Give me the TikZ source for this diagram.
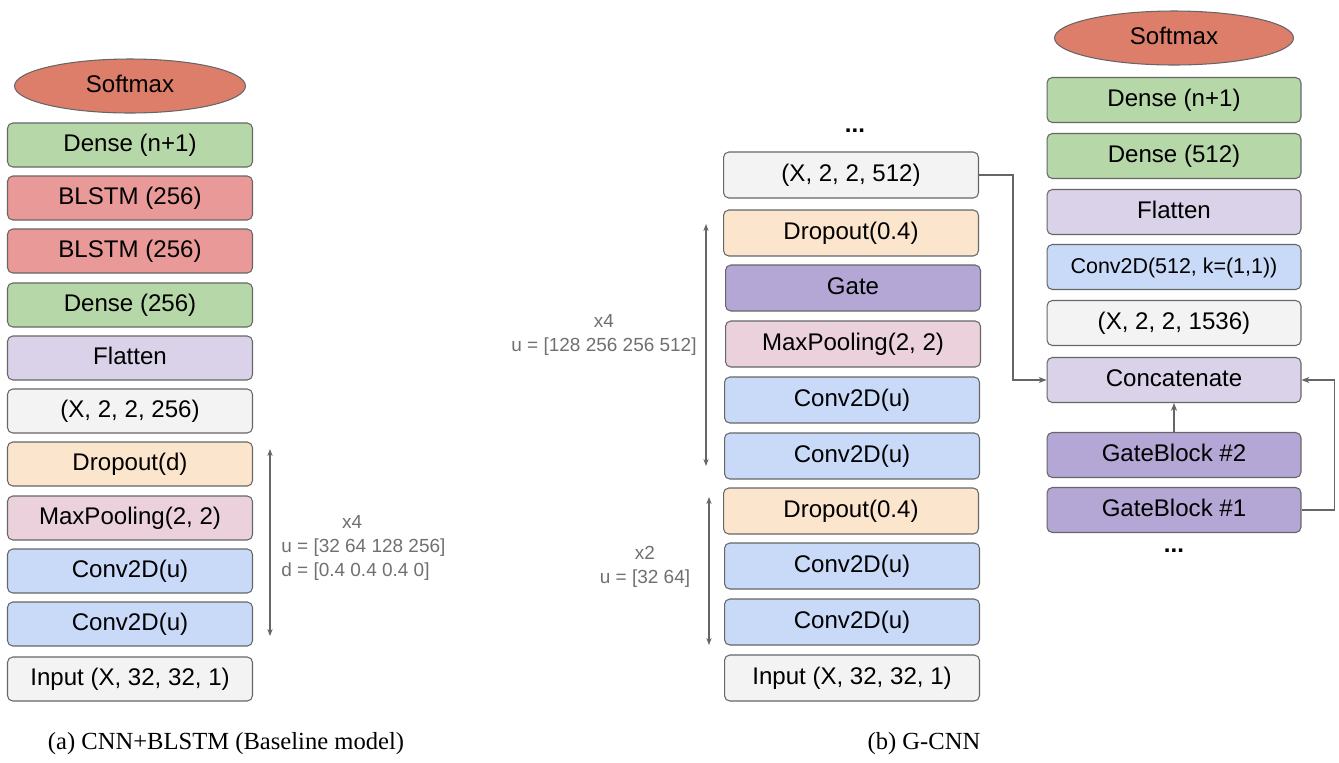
\documentclass[tikz,border=0pt]{standalone}
\usepackage{fontspec}
\setmainfont{Liberation Serif}
\setsansfont{Liberation Sans}
\usetikzlibrary{shapes.geometric,arrows.meta}

\definecolor{softred}{HTML}{DD7E6B}
\definecolor{densegreen}{HTML}{B6D7A8}
\definecolor{lstmred}{HTML}{EA9999}
\definecolor{flatpurple}{HTML}{D9D2E9}
\definecolor{shapegray}{HTML}{F3F3F3}
\definecolor{droporange}{HTML}{FCE5CD}
\definecolor{poolpink}{HTML}{EAD1DC}
\definecolor{convblue}{HTML}{C9DAF8}
\definecolor{gatepurple}{HTML}{B4A7D6}
\definecolor{linegray}{HTML}{666666}
\definecolor{notegray}{HTML}{707070}

\begin{document}
\begin{tikzpicture}[x=0.02cm,y=-0.02cm,
		layer/.style={draw=linegray,line width=0.6pt,rounded corners=3pt,inner sep=0pt,text height=0.78em,text depth=0em,font=\sffamily\fontsize{13.7}{16}\selectfont},
		colA/.style={layer,minimum width=4.9cm,minimum height=0.88cm},
		colB/.style={layer,minimum width=5.1cm,minimum height=0.92cm},
		colC/.style={layer,minimum width=5.08cm,minimum height=0.9cm},
		soft/.style={ellipse,draw=linegray,line width=0.6pt,fill=softred,inner sep=0pt,text height=0.78em,text depth=0em,font=\sffamily\fontsize{13.7}{16}\selectfont},
		note/.style={text=notegray,font=\sffamily\fontsize{10.8}{13.6}\selectfont},
		dots/.style={font=\sffamily\bfseries\fontsize{13.7}{16}\selectfont},
		span/.style={draw=linegray,line width=0.6pt,{Stealth[length=4pt,width=3pt]}-{Stealth[length=4pt,width=3pt]}},
		conn/.style={draw=linegray,line width=0.6pt,-{Stealth[length=4.5pt,width=3.5pt]}},
		captext/.style={font=\fontsize{14}{16}\selectfont}]
	\useasboundingbox (0,0) rectangle (1339,762);
	
	% (a) baseline
	\node[soft,minimum width=4.62cm,minimum height=1.08cm] (smA) at (130,86) {Softmax};
	\node[colA,fill=densegreen] (dnA) at (130,145) {Dense (n+1)};
	\node[colA,fill=lstmred] (lstmB) at (130,198) {BLSTM (256)};
	\node[colA,fill=lstmred] (lstmA) at (130,251) {BLSTM (256)};
	\node[colA,fill=densegreen] (dA) at (130,305) {Dense (256)};
	\node[colA,fill=flatpurple] (flA) at (130,358) {Flatten};
	\node[colA,fill=shapegray] (shA) at (130,411) {(X, 2, 2, 256)};
	\node[colA,fill=droporange] (drA) at (130,464) {Dropout(d)};
	\node[colA,fill=poolpink] (mpA) at (130,518) {MaxPooling(2, 2)};
	\node[colA,fill=convblue] (cvAb) at (130,571) {Conv2D(u)};
	\node[colA,fill=convblue] (cvAa) at (130,624) {Conv2D(u)};
	\node[colA,fill=shapegray] (inA) at (130,679) {Input (X, 32, 32, 1)};
	
	\coordinate (spA1) at (270,449);
	\coordinate (spA2) at (270,636);
	\draw[span] (spA1) -- (spA2);
	\node[note,align=left,anchor=west,inner sep=0pt] (ntA) at (281,548) {\hspace*{3.2em}x4\\u = [32 64 128 256]\\d = [0.4 0.4 0.4 0]};
	
	% (b) G-CNN, left part
	\node[dots] (dotsB) at (855,131) {...};
	\node[colB,fill=shapegray] (shB) at (851,175) {(X, 2, 2, 512)};
	\node[colB,fill=droporange] (drB) at (851,233) {Dropout(0.4)};
	\node[colB,fill=gatepurple] (gtB) at (853,288) {Gate};
	\node[colB,fill=poolpink] (mpB) at (853,344) {MaxPooling(2, 2)};
	\node[colB,fill=convblue] (cvBd) at (852,400) {Conv2D(u)};
	\node[colB,fill=convblue] (cvBc) at (852,456) {Conv2D(u)};
	\node[colB,fill=droporange] (drBa) at (851,511) {Dropout(0.4)};
	\node[colB,fill=convblue] (cvBb) at (852,566) {Conv2D(u)};
	\node[colB,fill=convblue] (cvBa) at (852,622) {Conv2D(u)};
	\node[colB,fill=shapegray] (inB) at (852,678) {Input (X, 32, 32, 1)};
	
	\coordinate (spB1) at (706,224);
	\coordinate (spB2) at (706,466);
	\coordinate (spB3) at (709,497);
	\coordinate (spB4) at (709,645);
	\draw[span] (spB1) -- (spB2);
	\draw[span] (spB3) -- (spB4);
	\node[note,align=center] (ntB1) at (604,335) {x4\\u = [128 256 256 512]};
	\node[note,align=center] (ntB2) at (645,567) {x2\\u = [32 64]};
	
	% (b) G-CNN, head
	\node[soft,minimum width=4.78cm,minimum height=1.08cm] (smC) at (1174,38) {Softmax};
	\node[colC,fill=densegreen] (dnC) at (1174,100) {Dense (n+1)};
	\node[colC,fill=densegreen] (dC) at (1174,156) {Dense (512)};
	\node[colC,fill=flatpurple] (flC) at (1174,212) {Flatten};
	\node[colC,fill=convblue,font=\sffamily\fontsize{12.2}{14}\selectfont] (cvC) at (1174,267) {Conv2D(512, k=(1,1))};
	\node[colC,fill=shapegray] (shC) at (1174,323) {(X, 2, 2, 1536)};
	\node[colC,fill=flatpurple] (catC) at (1174,380) {Concatenate};
	\node[colC,fill=gatepurple] (gbB) at (1174,455) {GateBlock \#2};
	\node[colC,fill=gatepurple] (gbA) at (1174,510) {GateBlock \#1};
	\node[dots] (dotsC) at (1174,551) {...};
	
	\draw[conn] (shB.east) -- ++(34,0) |- (catC.west);
	\draw[conn] (gbA.east) -- ++(33,0) |- (catC.east);
	\draw[conn] (gbB) -- (catC);
	
	\node[captext] (capA) at (226,744) {(a) CNN+BLSTM (Baseline model)};
	\node[captext] (capB) at (924,744) {(b) G-CNN};
\end{tikzpicture}
\end{document}
